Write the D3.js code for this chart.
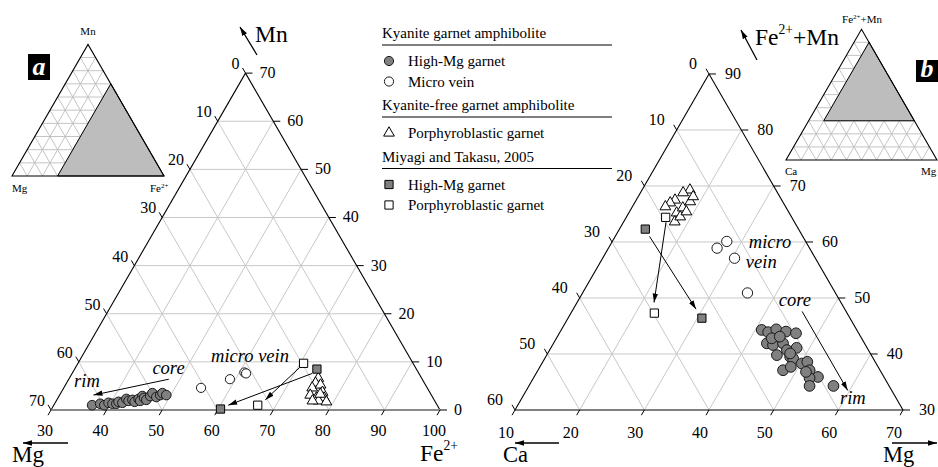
<!DOCTYPE html>
<html>
<head>
<meta charset="utf-8">
<script src="https://cdn.jsdelivr.net/npm/d3@7"></script>
<style>
  body { margin: 0; background: #fff; }
  svg { display: block; font-family: "Liberation Serif", "Times New Roman", serif; }
</style>
</head>
<body>
<div id="chart"></div>
<script>
// ---------- diagram a : [Fe2+, Mn] (Mg = 100 - Fe - Mn) ----------
const aHighMg = [[36.9,1.0],[38.2,1.3],[39.1,1.0],[39.6,1.5],[40.4,1.3],[41.1,1.3],[41.3,1.7],
  [42.1,1.5],[42.4,2.3],[43.0,1.9],[43.6,2.1],[44.2,1.7],[44.6,2.3],[45.0,2.9],[45.1,1.9],
  [45.5,2.5],[46.1,2.1],[46.4,2.9],[46.5,3.5],[47.6,2.7],[48.1,3.1],[48.3,3.5],[49.2,3.1]];
const aMicroVein = [[54.7,4.6],[59.0,6.4],[60.9,7.8],[61.3,7.6]];
const aPorphyro = [[74.8,6.6],[74.8,5.6],[74.7,4.6],[75.1,3.1],[75.9,5.2],[77.0,3.7],
  [76.5,2.5],[77.9,2.5],[77.2,1.9],[78.7,1.7],[76.1,1.9],[76.8,3.3]];
const aMiyagiHighMg = [[73.6,8.5],[60.4,0.2]];
const aMiyagiPorph = [[70.6,9.7],[66.7,1.0]];
const aArrows = [[[48.0,6.4],[36.1,3.1]], [[73.2,7.6],[61.4,1.0]], [[70.4,9.0],[67.5,2.1]]];
const aNotes = [["core",44.5,7.5],["rim",31.8,4.7],["micro vein",53.8,10.0]];

const aFeTicks = [30,40,50,60,70,80,90,100];
const aMgTicks = [0,10,20,30,40,50,60,70];
const aMnTicks = [0,10,20,30,40,50,60,70];

// ---------- diagram b : [Mg, Fe2+ + Mn] (Ca = 100 - Mg - FeMn) ----------
const bHighMg = [[41.0,44.3],[42.2,43.9],[43.2,44.4],[44.9,44.0],[46.6,43.7],[43.0,41.9],
  [44.1,41.6],[45.5,41.9],[46.7,40.7],[48.0,41.1],[45.6,39.8],[47.8,39.5],[48.4,39.2],
  [47.9,37.1],[48.8,37.7],[50.2,38.3],[50.9,38.6],[52.0,37.1],[53.9,35.9],[52.7,35.7],
  [53.4,34.3],[57.1,34.3],[43.3,42.8],[44.4,43.1],[47.5,40.1],[51.6,36.8]];
const bMicroVein = [[27.7,60.1],[26.8,58.9],[30.4,57.1],[35.5,50.9]];
const bPorphyro = [[17.4,69.3],[16.6,68.8],[16.0,67.5],[15.5,67.0],[17.4,65.2],[17.9,66.1],
  [18.5,67.2],[18.5,68.1],[17.9,63.6],[18.3,64.5],[18.8,65.4],[15.1,66.3]];
const bMiyagiHighMg = [[14.0,62.3],[30.7,46.4]];
const bMiyagiPorph = [[16.1,64.4],[22.9,47.3]];
const bArrows = [[[45.6,47.6],[59.7,33.5]], [[15.3,61.0],[29.0,48.0]], [[16.6,63.5],[21.9,49.2]]];
const bNotes = [["core",41.5,48.6],["rim",59.7,31.1],["micro",31.7,58.9],["vein",33.0,55.4]];

const bMgTicks = [10,20,30,40,50,60,70];
const bCaTicks = [0,10,20,30,40,50,60];
const bFMTicks = [30,40,50,60,70,80,90];

// ---------- legend ----------
const legendGroups = ["Kyanite garnet amphibolite", "Kyanite-free garnet amphibolite", "Miyagi and Takasu, 2005"];
const legendLabels = [["High-Mg garnet","Micro vein"], ["Porphyroblastic garnet"], ["High-Mg garnet","Porphyroblastic garnet"]];
const legendKeys = [["hiMg","vein"], ["porph"], ["myHiMg","myPorph"]];

const W = 938, H = 467;
const SQ3 = Math.sqrt(3) / 2;

const svg = d3.select('#chart').append('svg').attr('width', W).attr('height', H);

svg.append('defs').append('marker')
  .attr('id', 'head').attr('viewBox', '0 0 10 6').attr('refX', 10).attr('refY', 3)
  .attr('markerWidth', 9).attr('markerHeight', 6).attr('markerUnits', 'userSpaceOnUse')
  .attr('orient', 'auto')
  .append('path').attr('d', 'M0,0L10,3L0,6Z').attr('fill', '#000');

// marker styles
const styles = {
  hiMg:    {shape: 'circle', fill: '#808080', r: 4.8},
  vein:    {shape: 'circle', fill: '#fff', r: 4.6},
  porph:   {shape: 'triangle', fill: '#fff'},
  myHiMg:  {shape: 'square', fill: '#808080'},
  myPorph: {shape: 'square', fill: '#fff'}
};
const triSym = d3.symbol().type(d3.symbolTriangle).size(50)();
const sqSym = d3.symbol().type(d3.symbolSquare).size(68)();

function drawMarks(g, data, proj, key, rScale) {
  const st = styles[key];
  const sel = g.append('g').selectAll('.m').data(data).enter();
  if (st.shape === 'circle') {
    sel.append('circle')
      .attr('cx', d => proj(d)[0]).attr('cy', d => proj(d)[1]).attr('r', st.r * rScale)
      .attr('fill', st.fill).attr('stroke', '#1a1a1a').attr('stroke-width', 1);
  } else {
    sel.append('path')
      .attr('d', st.shape === 'triangle' ? triSym : sqSym)
      .attr('transform', d => `translate(${proj(d)[0]},${proj(d)[1]})`)
      .attr('fill', st.fill).attr('stroke', '#000').attr('stroke-width', 1);
  }
}

function line(g, p, q, color, w) {
  return g.append('line').attr('x1', p[0]).attr('y1', p[1]).attr('x2', q[0]).attr('y2', q[1])
    .attr('stroke', color).attr('stroke-width', w);
}

// generic zoomed ternary: proj maps [u, v] -> pixel
function drawTernary(g, cfg) {
  const P = d => cfg.proj(d);
  const grid = g.append('g');
  cfg.grid.forEach(s => line(grid, P(s[0]), P(s[1]), '#c8c8c8', 1));

  const [c0, c1, c2] = cfg.corners.map(P);
  line(g, c0, c2, '#000', 1.1);
  line(g, c1, c2, '#000', 1.1);
  line(g, c0, c1, cfg.baseColor, cfg.baseWidth);

  const L = 6;
  const ticks = g.append('g').attr('font-size', 16);
  cfg.bottom.ticks.forEach(t => {
    const p = P(cfg.bottom.at(t));
    line(ticks, p, [p[0] - L * 0.5, p[1] + L * SQ3], '#000', 1);
    ticks.append('text').attr('x', p[0] + cfg.bottom.dx).attr('y', p[1] + cfg.bottom.dy)
      .attr('text-anchor', 'middle').text(t);
  });
  cfg.left.ticks.forEach(t => {
    const p = P(cfg.left.at(t));
    line(ticks, p, [p[0] - L * 0.5, p[1] - L * SQ3], '#000', 1);
    ticks.append('text').attr('x', p[0] + cfg.left.dx).attr('y', p[1] + cfg.left.dy)
      .attr('text-anchor', 'end').text(t);
  });
  cfg.right.ticks.forEach(t => {
    const p = P(cfg.right.at(t));
    line(ticks, p, [p[0] + 7, p[1]], '#000', 1);
    ticks.append('text').attr('x', p[0] + cfg.right.dx).attr('y', p[1] + 5)
      .attr('text-anchor', 'start').text(t);
  });

  const arr = g.append('g');
  cfg.arrows.forEach(a => {
    line(arr, P(a[0]), P(a[1]), '#000', 1).attr('marker-end', 'url(#head)');
  });

  cfg.series.forEach(s => drawMarks(g, s[0], P, s[1], cfg.rScale));

  g.append('g').attr('font-size', 18.5).attr('font-style', 'italic')
    .selectAll('text').data(cfg.notes).enter().append('text')
    .attr('x', d => P([d[1], d[2]])[0]).attr('y', d => P([d[1], d[2]])[1])
    .text(d => d[0]);
}

// ---- diagram a scales ----
const xA = d3.scaleLinear().domain([30, 100]).range([51, 440]);
const yA = d3.scaleLinear().domain([0, 70]).range([410, 410 - 389 * SQ3]);
const projA = d => [xA(d[0] + d[1] / 2), yA(d[1])];

const aGrid = [];
aMnTicks.slice(1, -1).forEach(m => aGrid.push([[30, m], [100 - m, m]]));
aFeTicks.slice(1, -1).forEach(f => aGrid.push([[f, 0], [f, 100 - f]]));
aMgTicks.slice(1, -1).forEach(v => aGrid.push([[100 - v, 0], [30, 70 - v]]));

drawTernary(svg.append('g'), {
  proj: projA,
  grid: aGrid,
  corners: [[30, 0], [100, 0], [30, 70]],
  baseColor: '#8a8a8a', baseWidth: 2,
  bottom: {ticks: aFeTicks, at: t => [t, 0], dx: -6, dy: 26},
  left:   {ticks: aMgTicks, at: t => [30, 70 - t], dx: -6, dy: -4},
  right:  {ticks: aMnTicks, at: t => [100 - t, t], dx: 14},
  arrows: aArrows,
  rScale: 1,
  series: [[aHighMg, 'hiMg'], [aMicroVein, 'vein'], [aPorphyro, 'porph'],
           [aMiyagiHighMg, 'myHiMg'], [aMiyagiPorph, 'myPorph']],
  notes: aNotes
});

// ---- diagram b scales ----
const xB = d3.scaleLinear().domain([10, 70]).range([515, 903]);
const yB = d3.scaleLinear().domain([30, 90]).range([410, 410 - 388 * SQ3]);
const projB = d => [xB(d[0] + (d[1] - 30) / 2), yB(d[1])];

const bGrid = [];
bFMTicks.slice(1, -1).forEach(f => bGrid.push([[10, f], [100 - f, f]]));
bMgTicks.slice(1, -1).forEach(m => bGrid.push([[m, 30], [m, 100 - m]]));
bCaTicks.slice(1, -1).forEach(c => bGrid.push([[70 - c, 30], [10, 90 - c]]));

drawTernary(svg.append('g'), {
  proj: projB,
  grid: bGrid,
  corners: [[10, 30], [70, 30], [10, 90]],
  baseColor: '#000', baseWidth: 1.1,
  bottom: {ticks: bMgTicks, at: t => [t, 30], dx: -9, dy: 28},
  left:   {ticks: bCaTicks, at: t => [10, 90 - t], dx: -12, dy: -5},
  right:  {ticks: bFMTicks, at: t => [100 - t, t], dx: 16},
  arrows: bArrows,
  rScale: 1.12,
  series: [[bHighMg, 'hiMg'], [bMicroVein, 'vein'], [bPorphyro, 'porph'],
           [bMiyagiHighMg, 'myHiMg'], [bMiyagiPorph, 'myPorph']],
  notes: bNotes
});

// ---- axis titles ----
function title(x, y, parts, size, anchor) {
  const t = svg.append('text').attr('x', x).attr('y', y).attr('font-size', size)
    .attr('text-anchor', anchor || 'start');
  let up = 0;
  parts.forEach(p => {
    const sup = p[1];
    const dy = sup ? -0.45 * size - up : -up;
    up = sup ? -0.45 * size : 0;
    t.append('tspan').attr('dy', dy).attr('font-size', sup ? size * 0.58 : size).text(p[0]);
  });
  return t;
}
function arrowLine(p, q) { line(svg, p, q, '#000', 1.3).attr('marker-end', 'url(#head)'); }

title(255, 42, [['Mn']], 23.5);
arrowLine([257, 55], [240, 27]);
title(12, 462, [['Mg']], 23);
arrowLine([68, 443], [23, 443]);
title(420, 461, [['Fe'], ['2+', 1]], 23.5);

title(755, 45, [['Fe'], ['2+', 1], ['+Mn']], 23.5);
arrowLine([757, 60], [741, 30]);
title(503, 462, [['Ca']], 22.5);
arrowLine([559, 443], [515, 443]);
title(883, 462, [['Mg']], 22.5);
arrowLine([892, 443], [937, 443]);

// ---- legend ----
const lg = svg.append('g').attr('font-size', 15);
let ly = 38;
legendGroups.forEach((name, gi) => {
  lg.append('text').attr('x', 382).attr('y', ly).text(name);
  line(lg, [382, ly + 7], [612, ly + 7], '#000', 1);
  ly += 23;
  legendLabels[gi].forEach((lab, i) => {
    const key = legendKeys[gi][i];
    const st = styles[key];
    if (st.shape === 'circle') {
      lg.append('circle').attr('cx', 389).attr('cy', ly).attr('r', 4.6)
        .attr('fill', st.fill).attr('stroke', '#1a1a1a');
    } else {
      lg.append('path').attr('d', st.shape === 'triangle' ? triSym : sqSym)
        .attr('transform', `translate(389,${ly})`).attr('fill', st.fill).attr('stroke', '#000');
    }
    lg.append('text').attr('x', 408).attr('y', ly + 5).text(lab);
    ly += 20.5;
  });
  ly += 8;
});

// ---- inset triangles ----
function inset(x0, x1, yb, gridLines, shade, labels) {
  const xi = d3.scaleLinear().domain([0, 100]).range([x0, x1]);
  const yi = d3.scaleLinear().domain([0, 100]).range([yb, yb - (x1 - x0) * SQ3]);
  const P = d => [xi(d[0] + d[1] / 2), yi(d[1])];
  const g = svg.append('g');
  gridLines.forEach(s => line(g, P(s[0]), P(s[1]), '#bdbdbd', 0.9));
  g.append('path').attr('d', 'M' + shade.map(P).join('L') + 'Z')
    .attr('fill', '#bdbdbd').attr('stroke', '#000').attr('stroke-width', 1);
  g.append('path').attr('d', 'M' + [[0, 0], [100, 0], [0, 100]].map(P).join('L') + 'Z')
    .attr('fill', 'none').attr('stroke', '#000').attr('stroke-width', 1.1);
  labels.forEach(l => {
    const t = g.append('text').attr('x', l[1]).attr('y', l[2]).attr('font-size', 11)
      .attr('text-anchor', l[3] || 'start');
    l[0].forEach(p => t.append('tspan').attr('dy', p[1] || 0)
      .attr('font-size', p[2] || 11).text(p[0]));
  });
}
const insetSteps = [10, 20, 30, 40, 50, 60, 70, 80, 90];
const insetGrid = [];
insetSteps.forEach(v => {
  insetGrid.push([[0, v], [100 - v, v]]);
  insetGrid.push([[v, 0], [v, 100 - v]]);
  insetGrid.push([[100 - v, 0], [0, 100 - v]]);
});
inset(12, 164, 176, insetGrid, [[30, 0], [100, 0], [30, 70]],
  [[[['Mn']], 88, 35, 'middle'], [[['Mg']], 12, 192], [[['Fe'], ['2+', -4, 7], ['', 4]], 150, 192]]);
inset(786, 937, 160, insetGrid, [[10, 30], [70, 30], [10, 90]],
  [[[['Fe'], ['2+', -4, 7], ['+Mn', 4]], 862, 23, 'middle'], [[['Ca']], 785, 175], [[['Mg']], 921, 175]]);

// ---- panel badges ----
[['a', 28, 54, 22, 26], ['b', 916, 60, 22, 22]].forEach(b => {
  svg.append('rect').attr('x', b[1]).attr('y', b[2]).attr('width', b[3]).attr('height', b[4]).attr('fill', '#000');
  svg.append('text').attr('x', b[1] + b[3] / 2).attr('y', b[2] + b[4] - 5)
    .attr('text-anchor', 'middle').attr('fill', '#fff').attr('font-size', 26)
    .attr('font-weight', 'bold').attr('font-style', 'italic').text(b[0]);
});
</script>
</body>
</html>
